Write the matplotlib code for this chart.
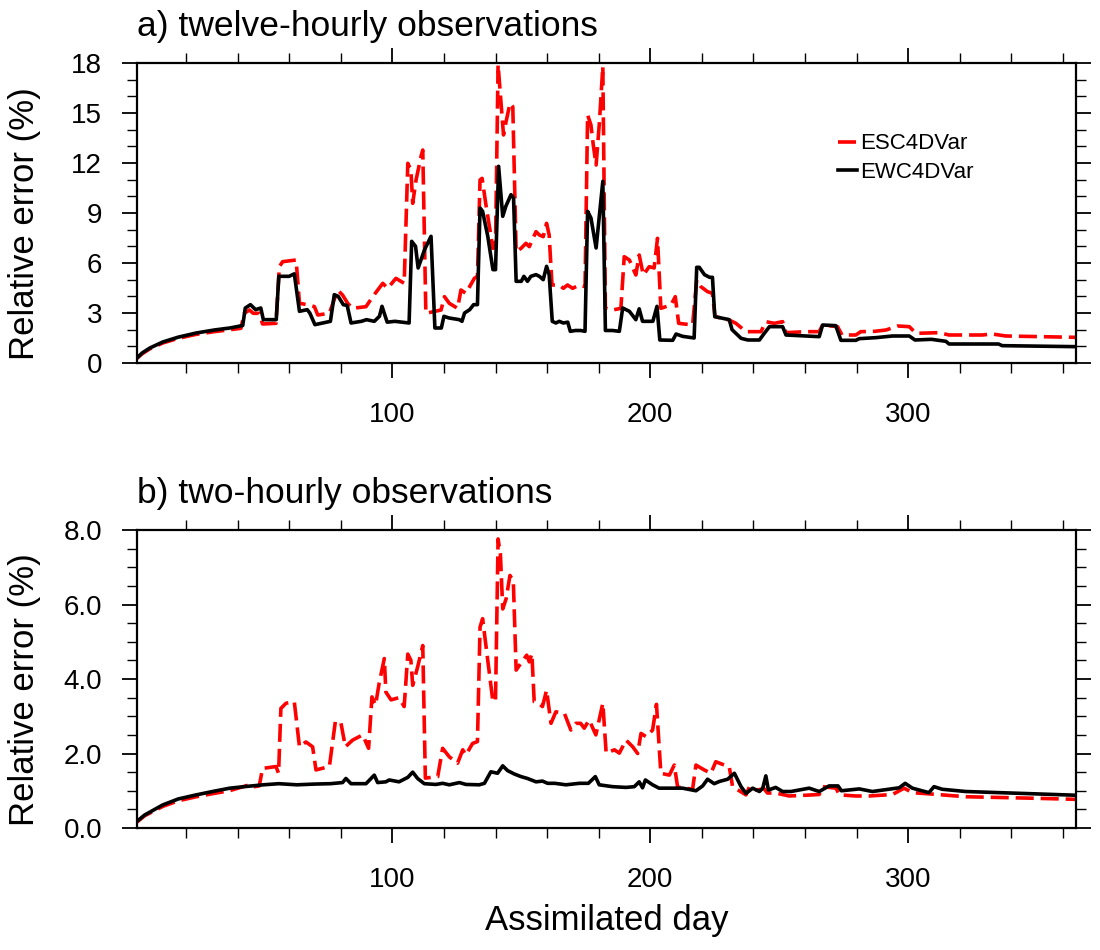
import numpy as np
import matplotlib
matplotlib.use("Agg")
import matplotlib.pyplot as plt
from matplotlib.ticker import MultipleLocator, FormatStrFormatter

plt.rcParams['font.family'] = ['Liberation Sans', 'DejaVu Sans']
plt.rcParams['lines.scale_dashes'] = False

# ---- panel a: twelve-hourly observations (day, relative error %) ----
a_esc_day = [1, 3, 6, 11, 17, 24, 31, 37, 41.3, 42.6, 44.6, 46.1, 48.4, 49.7, 54.9, 56.2, 57.5, 62.7,
             64, 67.8, 69.8, 71.1, 75.6, 78.8, 80.7, 82.7, 84.6, 89.8, 92.4, 96.3, 98.2, 101.4, 104.6,
             106, 107.2, 107.9, 109.2, 111.1, 111.8, 113, 118.9, 120.2, 122.1, 125.3, 126.6, 128.5,
             131.8, 133, 134, 134.8, 136.3, 139, 140, 141, 141.6, 143.1, 144.1, 145.6, 146.7, 148,
             149.9, 151.8, 153.1, 155.7, 157, 158.5, 159.8, 160.8, 161.9, 164.7, 166.3, 167.9, 169.9,
             172.5, 174.7, 175.7, 177, 177.9, 179, 180.3, 181.6, 182.6, 185.4, 188.6, 189.9, 191.9,
             194.4, 195.7, 197.3, 199.6, 201.5, 202.8, 204.1, 208, 209.7, 211, 216.4, 218, 219.6,
             222.2, 224.1, 225.1, 230.6, 233.2, 237.1, 242.9, 244.8, 248, 251.3, 252.6, 260.3, 265.5,
             266.8, 272.6, 274.3, 279.7, 281.6, 287, 291.4, 295.9, 300.4, 303, 312, 315.8, 328.7,
             332.6, 337.8, 365]
a_esc = [0.28, 0.55, 0.85, 1.2, 1.48, 1.72, 1.88, 2.0, 2.08, 2.98, 3.18, 2.98, 2.98, 2.34, 2.38, 5.78,
         6.08, 6.18, 3.58, 3.48, 3.38, 2.88, 2.98, 4.38, 4.08, 3.58, 3.28, 3.38, 3.98, 4.78, 4.48,
         5.08, 4.78, 11.98, 11.58, 9.58, 10.98, 12.38, 12.78, 2.98, 3.18, 3.98, 3.58, 3.28, 4.38,
         4.18, 5.08, 5.2, 10.98, 11.08, 9.48, 6.88, 7.08, 17.9, 16.7, 13.68, 14.48, 15.58, 15.38,
         6.68, 6.88, 7.18, 6.98, 7.88, 7.68, 7.58, 8.38, 7.68, 4.68, 4.68, 4.48, 4.68, 4.48, 4.68,
         4.58, 14.88, 14.28, 13.08, 11.88, 14.48, 17.8, 3.28, 3.18, 3.28, 6.38, 6.18, 5.28, 6.48,
         5.28, 5.78, 5.7, 7.48, 3.28, 3.48, 3.98, 2.38, 2.28, 4.98, 4.58, 4.28, 4.18, 2.78, 2.58,
         2.38, 1.88, 1.88, 2.48, 2.38, 2.48, 1.82, 1.88, 1.88, 2.28, 2.18, 1.68, 1.68, 1.88, 1.9,
         1.98, 2.22, 2.18, 1.78, 1.82, 1.68, 1.68, 1.74, 1.62, 1.54]

a_ewc_day = [1, 3, 6, 11, 17, 24, 31, 37, 42, 43, 45, 47, 49, 50, 55, 56, 60, 62, 64, 67, 68, 70, 76,
             77.5, 79, 81, 82.5, 84, 88, 90, 93, 95, 96, 98, 101, 106.5, 107.5, 109, 110, 112.5, 115,
             116.5, 119, 120, 122, 126, 127, 128, 130, 131.5, 133, 134, 135, 137, 139, 140, 141.2,
             142.8, 144, 146, 147, 148, 150, 151, 152.4, 153.7, 155.7, 157, 158.5, 159.8, 160.8, 162,
             163.4, 164.7, 166.3, 168, 169, 171, 173, 174.7, 175.7, 177, 179, 181.6, 182.6, 185.4,
             188, 189.3, 191.9, 194.4, 195.7, 197, 199, 201, 202.6, 203.7, 208.7, 210, 212.5, 217,
             218, 219, 221, 223, 224.1, 225, 230.6, 231.7, 233.2, 235.2, 237.8, 242.3, 244.2, 246.2,
             251.3, 252.6, 265.5, 266.8, 271.9, 273.9, 279.7, 281, 287.4, 293.9, 300.4, 302.6, 309,
             314.6, 315.8, 335, 336.4, 365]
a_ewc = [0.3, 0.6, 0.9, 1.26, 1.55, 1.8, 1.98, 2.1, 2.25, 3.3, 3.5, 3.2, 3.3, 2.6, 2.6, 5.2, 5.2, 5.35,
         3.1, 3.2, 3.0, 2.3, 2.5, 4.1, 4.0, 3.5, 3.45, 2.4, 2.5, 2.6, 2.5, 2.8, 3.4, 2.45, 2.5, 2.4,
         7.3, 7.0, 5.7, 6.8, 7.6, 2.1, 2.1, 2.8, 2.7, 2.6, 2.5, 3.0, 3.2, 3.5, 3.5, 9.3, 9.1, 7.6,
         5.6, 5.6, 11.8, 8.8, 9.4, 10.1, 9.9, 4.9, 4.9, 5.2, 4.9, 5.2, 5.3, 5.2, 5.0, 5.8, 5.3, 2.5,
         2.4, 2.5, 2.4, 2.45, 1.9, 1.95, 1.95, 1.9, 9.1, 8.7, 6.9, 10.9, 1.95, 1.95, 1.9, 3.3, 3.1,
         2.6, 3.25, 2.5, 2.5, 2.5, 3.4, 1.38, 1.36, 1.74, 1.6, 1.5, 5.74, 5.74, 5.3, 5.14, 5.14,
         2.78, 2.6, 2.0, 1.78, 1.48, 1.38, 1.38, 1.78, 2.18, 2.18, 1.68, 1.58, 2.28, 2.24, 1.36,
         1.36, 1.46, 1.52, 1.62, 1.62, 1.38, 1.42, 1.3, 1.14, 1.14, 1.04, 0.98]

# ---- panel b: two-hourly observations ----
b_esc_day = [1, 4, 11, 17, 24, 31, 36.8, 44.6, 46.5, 48.4, 49.7, 54.9, 55.9, 56.8, 58.8, 62, 64, 66.5,
             69.1, 70.4, 75.6, 77.9, 80, 81.8, 84.6, 88.5, 90.8, 92.1, 93.5, 94.9, 96.9, 97.5, 99.5,
             102.6, 104.6, 106, 107.2, 107.9, 109.8, 111.8, 112.8, 117.6, 119.5, 122.1, 125.3, 127.3,
             128.5, 131.1, 133, 134, 135, 137, 139, 140, 141, 141.9, 142.8, 144.1, 145.6, 146.9, 148,
             150.2, 152.1, 153.1, 154.1, 155, 156.7, 158.2, 159.8, 161.5, 163.4, 166.7, 169.2, 171.2,
             173, 174.4, 176.3, 178.9, 181.6, 182.9, 186.1, 188, 190.6, 193.2, 195.1, 196.4, 198.4,
             200.9, 202.4, 204.1, 207.4, 209.3, 210.6, 216.4, 217.7, 220.9, 223.5, 225.4, 228.7,
             230.6, 231.9, 234.5, 237.1, 238.4, 241, 244.2, 245.4, 248.6, 253.8, 260.3, 265.5, 266.8,
             272, 273.3, 279.7, 284.9, 293.9, 298.4, 301.6, 309.4, 322.3, 348.1, 365]
b_esc = [0.16, 0.33, 0.58, 0.73, 0.84, 0.93, 1.0, 1.16, 1.11, 1.13, 1.6, 1.65, 1.47, 3.21, 3.35, 3.39,
         2.18, 2.31, 2.18, 1.56, 1.65, 2.85, 2.85, 2.18, 2.36, 2.5, 2.14, 3.52, 3.3, 3.89, 4.55,
         3.65, 3.44, 3.5, 3.26, 4.67, 4.5, 3.83, 4.32, 4.9, 1.34, 1.38, 2.14, 1.91, 1.74, 2.1, 1.96,
         2.27, 2.32, 5.39, 5.62, 4.5, 3.39, 3.43, 7.76, 7.35, 5.88, 6.15, 6.78, 6.64, 4.24, 4.46,
         4.64, 4.46, 4.68, 3.39, 3.35, 3.26, 3.7, 2.81, 3.12, 3.08, 2.63, 2.81, 2.81, 2.68, 2.9,
         2.5, 3.35, 2.01, 2.1, 2.01, 2.36, 2.18, 2.0, 2.54, 2.45, 2.63, 3.32, 1.47, 1.42, 1.69, 1.1,
         1.04, 1.69, 1.56, 1.47, 1.78, 1.69, 1.65, 1.11, 1.0, 0.89, 1.1, 1.02, 1.05, 0.94, 0.94,
         0.86, 0.88, 0.9, 1.11, 1.07, 0.89, 0.86, 0.86, 0.9, 1.07, 0.95, 0.91, 0.84, 0.8, 0.77]

b_ewc_day = [1, 4, 11, 17, 24, 31, 37, 44, 50, 56, 63, 70, 76, 80.7, 82, 84, 89.8, 93, 94.3, 97.5,
             98.8, 102.6, 106, 107.9, 109.8, 112.4, 116.9, 119.5, 122.1, 126, 128.5, 133.7, 135.7,
             138.2, 140.8, 142.8, 144.7, 147.3, 149.9, 152.4, 155.7, 158.2, 160.2, 163, 167.3, 172.5,
             176, 178.7, 180.2, 185.4, 190.6, 193.8, 195.7, 197, 198.1, 200.9, 203.4, 207.4, 212.5,
             217.7, 220.3, 222.2, 224.8, 226.8, 230, 232.6, 235.2, 237.1, 239.7, 242.3, 243.6, 244.8,
             245.8, 248.6, 251.3, 254.5, 261.6, 265.5, 269.3, 272.8, 274.1, 281, 286.1, 291.3, 296.5,
             298.8, 301.6, 308, 310, 313.2, 322.3, 335.2, 348.1, 365]
b_ewc = [0.18, 0.35, 0.62, 0.78, 0.89, 0.99, 1.07, 1.12, 1.16, 1.19, 1.16, 1.18, 1.19, 1.22, 1.33,
         1.19, 1.19, 1.42, 1.22, 1.24, 1.29, 1.24, 1.36, 1.5, 1.33, 1.19, 1.17, 1.2, 1.16, 1.22,
         1.17, 1.16, 1.2, 1.51, 1.47, 1.67, 1.54, 1.45, 1.38, 1.33, 1.24, 1.26, 1.2, 1.2, 1.16, 1.2,
         1.2, 1.38, 1.16, 1.11, 1.09, 1.11, 1.24, 1.08, 1.29, 1.16, 1.07, 1.07, 1.07, 1.0, 1.13,
         1.31, 1.19, 1.25, 1.31, 1.47, 1.11, 0.93, 1.07, 0.98, 1.07, 1.4, 1.02, 1.09, 0.98, 0.98,
         1.07, 0.98, 1.13, 1.13, 1.0, 1.05, 0.98, 1.03, 1.08, 1.2, 1.07, 0.95, 1.11, 1.04, 0.98,
         0.95, 0.92, 0.88]

titles = ["a) twelve-hourly observations", "b) two-hourly observations"]
labels = ["ESC4DVar", "EWC4DVar"]

fig = plt.figure(figsize=(11, 9.5), dpi=100)
ax1 = fig.add_axes([0.1245, 0.6179, 0.8536, 0.3158])
ax2 = fig.add_axes([0.1245, 0.1284, 0.8536, 0.3137])

panels = [
    (ax1, a_esc_day, a_esc, a_ewc_day, a_ewc, 18, 3, 1, '%d'),
    (ax2, b_esc_day, b_esc, b_ewc_day, b_ewc, 8, 2, 0.5, '%.1f'),
]

for i, (ax, xd1, y1, xd2, y2, ymax, ymaj, ymin, fmt) in enumerate(panels):
    l1, = ax.plot(xd1, y1, color='red', lw=2.6, dashes=(13, 5), label=labels[0])
    l2, = ax.plot(xd2, y2, color='black', lw=2.6, label=labels[1])
    ax.set_xlim(1, 365)
    ax.set_ylim(0, ymax)
    ax.xaxis.set_major_locator(MultipleLocator(100))
    ax.xaxis.set_minor_locator(MultipleLocator(20))
    ax.yaxis.set_major_locator(MultipleLocator(ymaj))
    ax.yaxis.set_minor_locator(MultipleLocator(ymin))
    ax.yaxis.set_major_formatter(FormatStrFormatter(fmt))
    ax.tick_params(which='both', direction='out', top=True, right=True, labelsize=20)
    ax.tick_params(which='major', length=11, width=1.3)
    ax.tick_params(axis='x', which='major', pad=17)
    ax.tick_params(axis='y', which='major', pad=14)
    ax.tick_params(which='minor', length=7, width=1.0)
    for s in ax.spines.values():
        s.set_linewidth(1.6)
    ax.set_ylabel("Relative error (%)", fontsize=25)
    ax.yaxis.set_label_coords(-0.102, 0.465)
    ax.text(0, 1.09, titles[i], transform=ax.transAxes, fontsize=25.5,
            ha='left', va='baseline')
    if i == 0:
        ax.legend(handles=[l1, l2], loc='upper left', bbox_to_anchor=(0.747, 0.765),
                  frameon=False, fontsize=16, handlelength=0.85, handletextpad=0.15,
                  labelspacing=0.35, borderpad=0, borderaxespad=0)

ax2.set_xlabel("Assimilated day", fontsize=25, labelpad=8)

fig.savefig("out.png", dpi=100)
